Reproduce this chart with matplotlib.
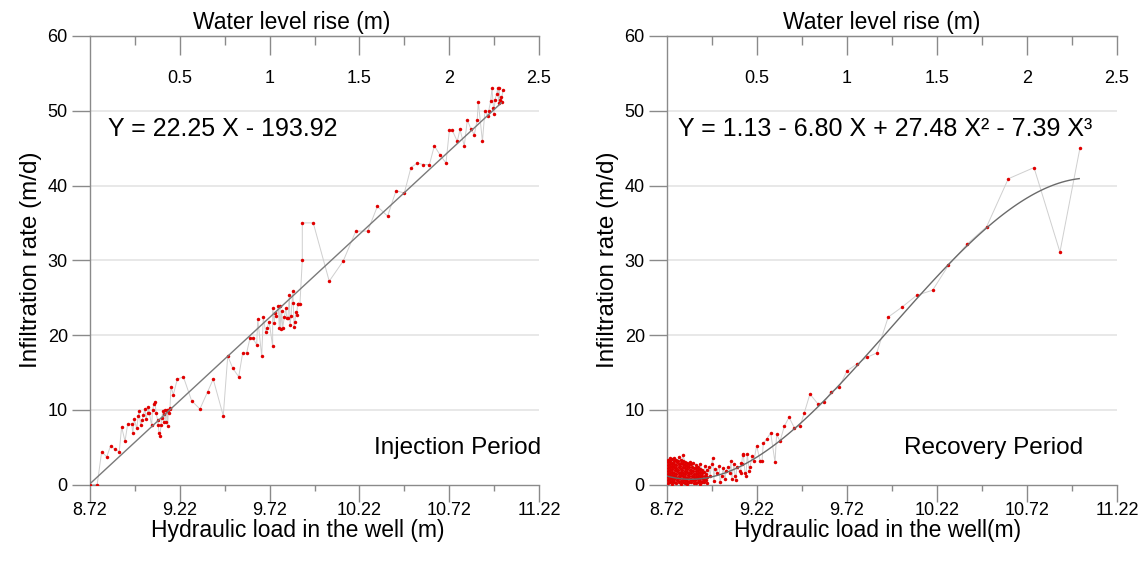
import matplotlib
matplotlib.use("Agg")
import matplotlib.pyplot as plt
import numpy as np

plt.rcParams['font.family'] = ['Liberation Sans', 'DejaVu Sans']

# ---------------- data ----------------
# Injection period: hydraulic load (m) vs infiltration rate (m/d)
inj_x = [8.72, 8.76, 8.785, 8.813, 8.835, 8.859, 8.883, 8.896, 8.915, 8.93, 8.952, 8.958,
         8.967, 8.98, 8.989, 8.993, 9.002, 9.011, 9.017, 9.026, 9.032, 9.041, 9.045, 9.05,
         9.063, 9.068, 9.076, 9.082, 9.088, 9.097, 9.10, 9.104, 9.11, 9.115, 9.12, 9.125,
         9.13, 9.134, 9.138, 9.143, 9.147, 9.15, 9.153, 9.156, 9.16, 9.163, 9.165, 9.171,
         9.184, 9.206, 9.24, 9.286, 9.332, 9.375, 9.406, 9.462, 9.487, 9.514, 9.548, 9.57,
         9.592, 9.611, 9.626, 9.648, 9.654, 9.676, 9.685, 9.698, 9.707, 9.717, 9.737, 9.737,
         9.746, 9.75, 9.757, 9.768, 9.774, 9.778, 9.782, 9.787, 9.793, 9.802, 9.811, 9.815,
         9.822, 9.83, 9.834, 9.84, 9.849, 9.852, 9.856, 9.861, 9.866, 9.871, 9.876, 9.88,
         9.889, 9.902, 9.902, 9.963, 10.052, 10.13, 10.20, 10.266, 10.32, 10.377, 10.424, 10.47,
         10.507, 10.542, 10.576, 10.61, 10.637, 10.669, 10.702, 10.721, 10.737, 10.765, 10.78,
         10.804, 10.821, 10.84, 10.86, 10.876, 10.882, 10.905, 10.919, 10.934, 10.94, 10.951,
         10.958, 10.966, 10.969, 10.975, 10.984, 10.99, 10.995, 10.998, 11.003, 11.007, 11.012,
         11.018]
inj_y = [0.0, 0.0, 4.4, 3.7, 5.2, 4.7, 4.4, 7.7, 5.8, 8.1, 8.1, 6.9,
         8.7, 7.5, 9.2, 9.8, 7.9, 8.6, 9.3, 10.1, 8.8, 9.6, 10.4, 9.6,
         7.9, 9.9, 10.8, 11.1, 9.5, 8.6, 7.9, 6.9, 6.5, 8.0, 8.9, 9.8,
         8.3, 9.4, 9.9, 8.4, 9.8, 10.0, 7.8, 10.0, 9.6, 10.2, 10.1, 13.1,
         12.0, 14.1, 14.4, 11.2, 10.1, 12.4, 14.1, 9.2, 17.2, 15.6, 14.4, 17.6,
         17.6, 19.6, 19.6, 18.7, 22.1, 17.2, 22.4, 20.4, 21.0, 21.8, 18.5, 23.6,
         21.6, 23.0, 22.5, 23.9, 21.0, 23.9, 20.8, 23.2, 21.0, 22.4, 23.6, 22.3,
         22.3, 25.3, 21.3, 22.6, 25.9, 24.3, 21.1, 21.8, 23.1, 22.7, 24.2, 24.2,
         24.2, 30.0, 35.0, 35.0, 27.2, 29.9, 33.9, 33.9, 37.2, 35.9, 39.3, 39.0,
         42.4, 43.0, 42.8, 42.8, 45.3, 44.1, 43.0, 47.4, 47.4, 45.9, 47.5,
         45.3, 48.8, 47.6, 46.8, 48.8, 51.2, 45.9, 50.0, 49.3, 50.0, 51.3,
         53.0, 50.4, 49.6, 51.5, 52.2, 53.0, 51.0, 53.0, 51.5, 51.8, 51.2,
         52.8]

# Recovery period: water level rise (m) vs infiltration rate (m/d)
rec_rise = [2.294, 2.183, 2.039, 1.896, 1.776, 1.669, 1.563, 1.476, 1.387, 1.304, 1.229,
            1.165, 1.11, 1.054, 1.0, 0.956, 0.911, 0.874, 0.838, 0.794, 0.763, 0.739, 0.707,
            0.678, 0.652, 0.628, 0.609, 0.60, 0.576, 0.554, 0.535, 0.528, 0.517, 0.498, 0.483,
            0.474, 0.461, 0.457, 0.446, 0.439, 0.433, 0.424, 0.42, 0.415, 0.411, 0.41, 0.406,
            0.387, 0.383, 0.378, 0.372, 0.36, 0.355, 0.35, 0.34, 0.328, 0.322, 0.313, 0.304,
            0.294, 0.29, 0.276, 0.267, 0.26, 0.254, 0.248, 0.24, 0.232,
            0.221, 0.219, 0.222, 0.218, 0.220,
            0.209, 0.207, 0.210, 0.206, 0.208,
            0.196, 0.198, 0.195, 0.197, 0.196,
            0.185, 0.183, 0.186, 0.184, 0.182, 0.185, 0.184,
            0.171, 0.173, 0.172, 0.170, 0.173, 0.172,
            0.160, 0.161, 0.159, 0.161, 0.160, 0.158, 0.160,
            0.148, 0.147, 0.149, 0.148, 0.146, 0.149, 0.147,
            0.136, 0.137, 0.135, 0.136, 0.138, 0.136, 0.135,
            0.124, 0.125, 0.123, 0.124, 0.126, 0.124, 0.123, 0.125,
            0.112, 0.113, 0.111, 0.112, 0.114, 0.112, 0.111, 0.113,
            0.100, 0.101, 0.099, 0.100, 0.102, 0.100, 0.099, 0.101,
            0.088, 0.087, 0.089, 0.088, 0.086, 0.088, 0.089, 0.087, 0.088,
            0.076, 0.077, 0.075, 0.076, 0.078, 0.076, 0.075, 0.077, 0.076,
            0.064, 0.063, 0.065, 0.064, 0.062, 0.064, 0.065, 0.063, 0.064,
            0.052, 0.053, 0.051, 0.052, 0.054, 0.052, 0.051, 0.053, 0.052,
            0.040, 0.041, 0.039, 0.040, 0.042, 0.040, 0.039, 0.041, 0.040,
            0.028, 0.029, 0.027, 0.028, 0.030, 0.028, 0.027, 0.029, 0.028,
            0.016, 0.017, 0.015, 0.016, 0.018, 0.016, 0.015, 0.017, 0.016,
            0.004, 0.005, 0.003, 0.004, 0.006, 0.004, 0.003, 0.005, 0.004]
rec_y = [45.0, 31.1, 42.4, 40.9, 34.5, 32.2, 29.3, 26.0, 25.3, 23.7, 22.4,
         17.6, 17.0, 16.1, 15.2, 13.0, 12.4, 11.0, 10.8, 12.1, 9.6, 7.8, 7.6,
         9.0, 7.8, 5.8, 6.7, 3.0, 6.9, 6.1, 5.5, 3.2, 3.2, 5.2, 3.2,
         3.8, 2.4, 1.8, 4.1, 1.2, 1.6, 4.1, 4.0, 2.7, 2.9, 1.6, 1.8,
         2.3, 0.6, 1.1, 2.7, 0.8, 3.2, 1.6, 2.4, 1.8, 0.7, 2.2, 1.1,
         0.4, 2.5, 1.6, 2.1, 0.5, 3.6, 2.8, 1.2, 2.3,
         0.2, 0.6, 1.0, 1.4, 2.0,
         2.5, 1.7, 1.2, 0.8, 0.4,
         0.3, 0.7, 1.1, 1.5, 1.9,
         2.7, 2.1, 1.7, 1.3, 0.9, 0.5, 0.1,
         0.4, 0.8, 1.2, 1.6, 2.0, 2.4,
         2.6, 2.2, 1.8, 1.4, 1.0, 0.6, 0.2,
         0.2, 0.6, 1.0, 1.4, 1.8, 2.2, 2.9,
         2.8, 2.4, 2.0, 1.6, 1.2, 0.8, 0.4,
         0.3, 0.7, 1.1, 1.5, 1.9, 2.3, 2.7, 3.0,
         2.9, 2.5, 2.1, 1.7, 1.3, 0.9, 0.5, 0.1,
         0.2, 0.6, 1.0, 1.4, 1.8, 2.2, 2.6, 3.0,
         3.9, 3.2, 2.8, 2.4, 2.0, 1.6, 1.2, 0.8, 0.4,
         0.1, 0.5, 0.9, 1.3, 1.7, 2.1, 2.5, 2.9, 3.3,
         3.7, 3.1, 2.7, 2.3, 1.9, 1.5, 1.1, 0.7, 0.3,
         0.2, 0.6, 1.0, 1.4, 1.8, 2.2, 2.6, 3.0, 3.3,
         3.6, 3.2, 2.8, 2.4, 2.0, 1.6, 1.2, 0.8, 0.4,
         0.1, 0.5, 0.9, 1.3, 1.7, 2.1, 2.5, 2.9, 3.4,
         3.5, 3.1, 2.7, 2.3, 1.9, 1.5, 1.1, 0.7, 0.3,
         0.2, 0.6, 1.0, 1.4, 1.8, 2.2, 2.6, 3.0, 3.3]

BASE = 8.72                      # water level rise = load - BASE
lin_coef = (22.25, -193.92)      # Y = a X + b
cub_coef = (1.13, -6.80, 27.48, -7.39)

x_major = [8.72, 9.22, 9.72, 10.22, 10.72, 11.22]
x_minor = [8.97, 9.47, 9.97, 10.47, 10.97]
top_major = [0.5, 1, 1.5, 2, 2.5]
top_minor = [0.25, 0.75, 1.25, 1.75, 2.25]
y_ticks = [0, 10, 20, 30, 40, 50, 60]

# ---------------- figure ----------------
fig = plt.figure(figsize=(11.42, 5.61), dpi=100)
axL = fig.add_axes([90/1142, 76.5/561, 449/1142, 448.5/561])
axR = fig.add_axes([667/1142, 76.5/561, 450/1142, 448.5/561])

SP = '#8a8a8a'
RED = '#e00000'

def style(ax, xlabel, eq, eq_x, period, period_x, xl_frac, top_frac):
    ax.set_xlim(8.72, 11.22)
    ax.set_ylim(0, 60)
    ax.spines['right'].set_visible(False)
    for s in ['left', 'bottom', 'top']:
        ax.spines[s].set_color(SP)
        ax.spines[s].set_linewidth(1.0)
    ax.set_xticks(x_major)
    ax.set_xticks(x_minor, minor=True)
    ax.set_xticklabels([f'{v:.2f}' for v in x_major])
    ax.set_yticks(y_ticks)
    ax.tick_params(axis='x', which='major', direction='out', length=12, width=1,
                   color=SP, labelsize=13, pad=0.5)
    ax.tick_params(axis='x', which='minor', direction='out', length=4.5, width=1, color=SP)
    ax.tick_params(axis='y', which='major', direction='out', length=13, width=1,
                   color=SP, labelsize=13, pad=3)
    ax.tick_params(top=False, right=False)
    for v in y_ticks[1:-1]:
        ax.axhline(v, color='#e4e4e4', lw=1.2, zorder=0)
    ax.set_xlabel(xlabel, fontsize=16.5)
    ax.xaxis.set_label_coords(xl_frac, -0.078)
    ax.set_ylabel('Infiltration rate (m/d)', fontsize=17.5, labelpad=4)
    sec = ax.secondary_xaxis('top', functions=(lambda x: x - BASE, lambda r: r + BASE))
    sec.set_xticks(top_major)
    sec.set_xticks(top_minor, minor=True)
    sec.set_xticklabels(['0.5', '1', '1.5', '2', '2.5'])
    sec.tick_params(axis='x', which='major', direction='in', length=13.5, width=1,
                    color=SP, labelsize=13, pad=-37)
    sec.tick_params(axis='x', which='minor', direction='in', length=6.5, width=1, color=SP)
    sec.spines['top'].set_color(SP)
    ax.text(top_frac, 1.029, 'Water level rise (m)', fontsize=16.5, ha='center', va='center',
            transform=ax.transAxes)
    ax.text(eq_x, 47.6, eq, fontsize=18, va='center', ha='left')
    ax.text(period_x, 4.9, period, fontsize=17.5, va='center', ha='right')

# left panel
axL.plot(inj_x, inj_y, color='#cfcfcf', lw=0.7, zorder=2)
axL.plot(inj_x, inj_y, 'o', color=RED, ms=2.5, mew=0, zorder=3)
fx = np.linspace(8.72, 11.01, 50)
axL.plot(fx, lin_coef[0] * fx + lin_coef[1], color='#7a7a7a', lw=1.0, zorder=4)
style(axL, 'Hydraulic load in the well (m)', 'Y = 22.25 X - 193.92', 8.82,
      'Injection Period', 11.23, 0.463, 0.45)

# right panel
rec_x = [BASE + r for r in rec_rise]
axR.plot(rec_x, rec_y, color='#cfcfcf', lw=0.7, zorder=2)
axR.plot(rec_x, rec_y, 'o', color=RED, ms=2.5, mew=0, zorder=3)
rr = np.linspace(0.0, 2.29, 120)
c = cub_coef
axR.plot(BASE + rr, c[0] + c[1]*rr + c[2]*rr**2 + c[3]*rr**3, color='#6a6a6a', lw=1.0, zorder=4)
style(axR, 'Hydraulic load in the well(m)',
      'Y = 1.13 - 6.80 X + 27.48 X\u00b2 - 7.39 X\u00b3', 8.78,
      'Recovery Period', 11.03, 0.467, 0.478)

fig.savefig('out.png', dpi=100)
